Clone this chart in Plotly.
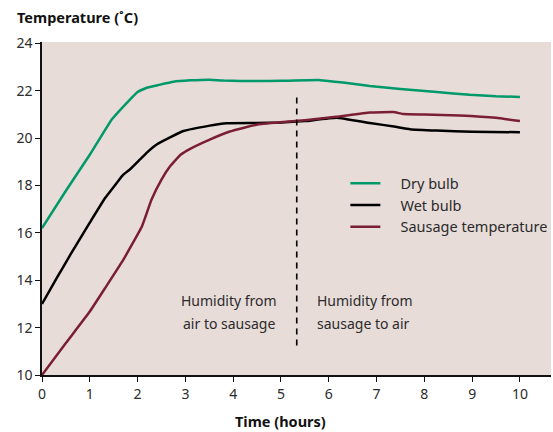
import plotly.graph_objects as go

# Data
dry_x = [0.0, 0.5, 1.0, 1.46, 1.84, 2.0, 2.19, 2.45, 2.75, 3.1, 3.51, 3.8, 4.5, 5.0, 5.82, 6.3, 6.86, 7.5, 8.26, 8.95, 9.5, 10.0]
dry_y = [16.2, 17.78, 19.3, 20.79, 21.63, 21.95, 22.13, 22.25, 22.38, 22.44, 22.47, 22.43, 22.41, 22.42, 22.45, 22.35, 22.2, 22.08, 21.95, 21.83, 21.77, 21.74]

wet_x = [0.0, 0.31, 0.6, 1.0, 1.32, 1.56, 1.7, 1.85, 2.05, 2.2, 2.4, 2.7, 2.96, 3.51, 3.86, 4.5, 5.0, 5.5, 6.16, 6.86, 7.4, 7.7, 8.26, 9.0, 10.0]
wet_y = [13.0, 14.1, 15.1, 16.43, 17.47, 18.1, 18.46, 18.7, 19.1, 19.4, 19.73, 20.05, 20.3, 20.53, 20.63, 20.64, 20.66, 20.72, 20.86, 20.64, 20.48, 20.38, 20.32, 20.27, 20.25]

saus_x = [0.0, 0.5, 1.0, 1.32, 1.7, 2.09, 2.29, 2.5, 2.68, 2.9, 3.1, 3.51, 3.93, 4.49, 4.98, 5.5, 6.16, 6.86, 7.35, 7.56, 8.0, 8.74, 9.5, 10.0]
saus_y = [10.0, 11.35, 12.68, 13.67, 14.86, 16.27, 17.4, 18.25, 18.81, 19.3, 19.55, 19.94, 20.28, 20.57, 20.67, 20.76, 20.9, 21.08, 21.1, 21.02, 21.0, 20.96, 20.86, 20.72]

names = ["Dry bulb", "Wet bulb", "Sausage temperature"]
colors = ["#00996a", "#000000", "#7a1f33"]

x_ticks = list(range(0, 11))
y_ticks = [10, 12, 14, 16, 18, 20, 22, 24]

divider_x = 5.33
divider_y = [11.25, 21.72]

left_note = ["Humidity from", "air to sausage"]
right_note = ["Humidity from", "sausage to air"]
note_y = [13.13, 12.16]

font_family = "Noto Sans, Open Sans, sans-serif"
text_color = "#2b2b2b"
pad = "\u00a0" * 4

fig = go.Figure()
for xs, ys, nm, col in zip([dry_x, wet_x, saus_x], [dry_y, wet_y, saus_y], names, colors):
    fig.add_trace(go.Scatter(x=xs, y=ys, mode="lines", name=pad + nm,
                             line=dict(color=col, width=2.5, shape="spline", smoothing=0.3)))

fig.add_trace(go.Scatter(x=[divider_x, divider_x], y=divider_y, mode="lines", showlegend=False,
                         line=dict(color="#000000", width=1.6, dash="6px,5px"), hoverinfo="skip"))

for txt, yy in zip(left_note, note_y):
    fig.add_annotation(x=3.91, y=yy, xref="x", yref="y", text=txt, showarrow=False,
                       xanchor="center", yanchor="middle",
                       font=dict(family=font_family, size=14, color=text_color))
for txt, yy in zip(right_note, note_y):
    fig.add_annotation(x=5.71, y=yy, xref="x", yref="y", text=txt, showarrow=False,
                       xanchor="left", yanchor="middle",
                       font=dict(family=font_family, size=14, color=text_color))

fig.add_annotation(x=0, y=1, xref="paper", yref="paper", xshift=-26, yshift=14, borderpad=0,
                   text="<b>Temperature (˚C)</b>", showarrow=False, xanchor="left", yanchor="bottom",
                   font=dict(family=font_family, size=14.5, color="#111111"))

fig.add_annotation(x=5, y=0, xref="x", yref="paper", yshift=-46, borderpad=0,
                   text="<b>Time (hours)</b>", showarrow=False, xanchor="center", yanchor="middle",
                   font=dict(family=font_family, size=14.5, color="#111111"))

fig.update_layout(
    width=553, height=432,
    margin=dict(l=42, r=2, t=42, b=57, autoexpand=False),
    paper_bgcolor="white", plot_bgcolor="#e8dcd9",
    font=dict(family=font_family, size=14, color=text_color),
    showlegend=True,
    legend=dict(x=0.596, y=0.624, xanchor="left", yanchor="top", bgcolor="rgba(0,0,0,0)",
                font=dict(family=font_family, size=14.5, color=text_color), tracegroupgap=0),
    xaxis=dict(range=[0, 10.65], tickvals=x_ticks, ticktext=[str(v) for v in x_ticks], automargin=False,
               showgrid=False, zeroline=False, showline=True, linecolor="#111111", linewidth=1.5,
               ticks="outside", ticklen=5, tickcolor="#111111", tickwidth=1.2),
    yaxis=dict(range=[10, 24.06], tickvals=y_ticks, ticktext=[str(v) for v in y_ticks], automargin=False,
               showgrid=False, zeroline=False, showline=True, linecolor="#111111", linewidth=1.5,
               ticks="outside", ticklen=5, tickcolor="#111111", tickwidth=1.2),
)

# Remove the default 8px page margin so the 553x432 figure fills the window exactly
fig.write_html("out.html", config={"displayModeBar": False},
               post_script="document.body.style.margin='0px';document.body.style.overflow='hidden';")
